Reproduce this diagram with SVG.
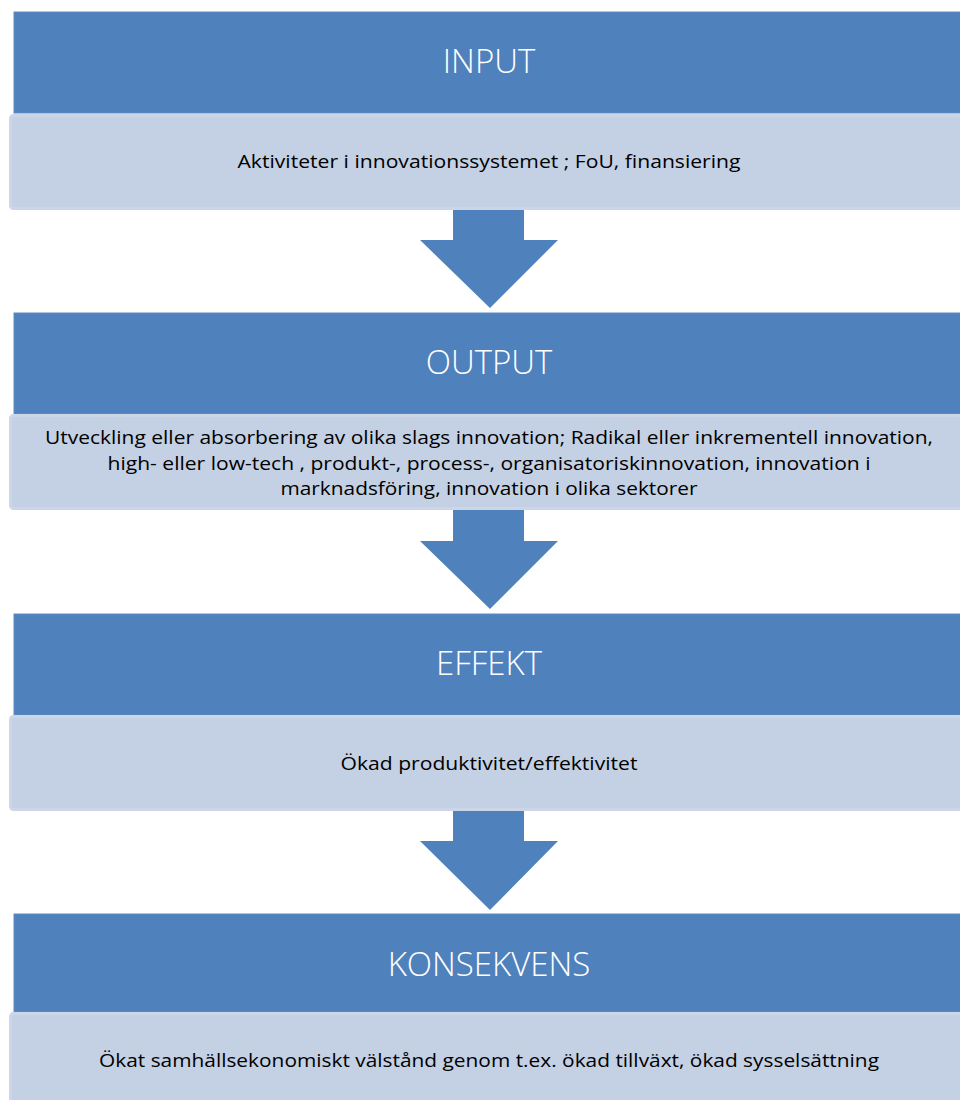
<svg xmlns="http://www.w3.org/2000/svg" width="960" height="1100" viewBox="0 0 960 1100">
<defs>
<style>
.head{fill:#4f81bd;stroke:#5d8cc4;stroke-width:1}
.body{fill:#c4d0e3;stroke:#ccd6e8;stroke-width:3}
.arrow{fill:#4f81bd}
.title{font-family:"Open Sans","Liberation Sans",sans-serif;font-weight:300;font-size:33px;fill:#ffffff;text-anchor:middle}
.txt{font-family:"Open Sans","Liberation Sans",sans-serif;font-size:19px;fill:#000000;text-anchor:middle}
</style>
</defs>
<rect width="960" height="1100" fill="#ffffff"/>
<g id="connectors">
<polygon class="arrow" points="453,200 524,200 524,240 558,240 490,308 420,240 453,240"/>
<polygon class="arrow" points="453,501 524,501 524,541 558,541 490,609 420,541 453,541"/>
<polygon class="arrow" points="453,801 524,801 524,841 558,841 490,910 420,841 453,841"/>
</g>
<g id="input">
<rect class="head" x="14" y="12" width="960" height="101"/>
<text class="title" x="489" y="73">INPUT</text>
<rect class="body" x="10.5" y="115.5" width="960" height="93" rx="3"/>
<text class="txt" x="489" y="168" textLength="503" lengthAdjust="spacingAndGlyphs">Aktiviteter i innovationssystemet ; FoU, finansiering</text>
</g>
<g id="output">
<rect class="head" x="14" y="313" width="960" height="101"/>
<text class="title" x="489" y="374">OUTPUT</text>
<rect class="body" x="10.5" y="415.5" width="960" height="93" rx="3"/>
<text class="txt" x="489" y="444" textLength="888" lengthAdjust="spacingAndGlyphs">Utveckling eller absorbering av olika slags innovation; Radikal eller inkrementell innovation,</text>
<text class="txt" x="489" y="470" textLength="763" lengthAdjust="spacingAndGlyphs">high- eller low-tech , produkt-, process-, organisatoriskinnovation, innovation i</text>
<text class="txt" x="489" y="495" textLength="417" lengthAdjust="spacingAndGlyphs">marknadsföring, innovation i olika sektorer</text>
</g>
<g id="effekt">
<rect class="head" x="14" y="614" width="960" height="101"/>
<text class="title" x="489" y="675">EFFEKT</text>
<rect class="body" x="10.5" y="716.5" width="960" height="93" rx="3"/>
<text class="txt" x="489" y="770" textLength="297" lengthAdjust="spacingAndGlyphs">Ökad produktivitet/effektivitet</text>
</g>
<g id="konsekvens">
<rect class="head" x="14" y="914" width="960" height="98"/>
<text class="title" x="489" y="975.5">KONSEKVENS</text>
<rect class="body" x="10.5" y="1013.5" width="960" height="100" rx="3"/>
<text class="txt" x="489" y="1067" textLength="780" lengthAdjust="spacingAndGlyphs">Ökat samhällsekonomiskt välstånd genom t.ex. ökad tillväxt, ökad sysselsättning</text>
</g>
</svg>
